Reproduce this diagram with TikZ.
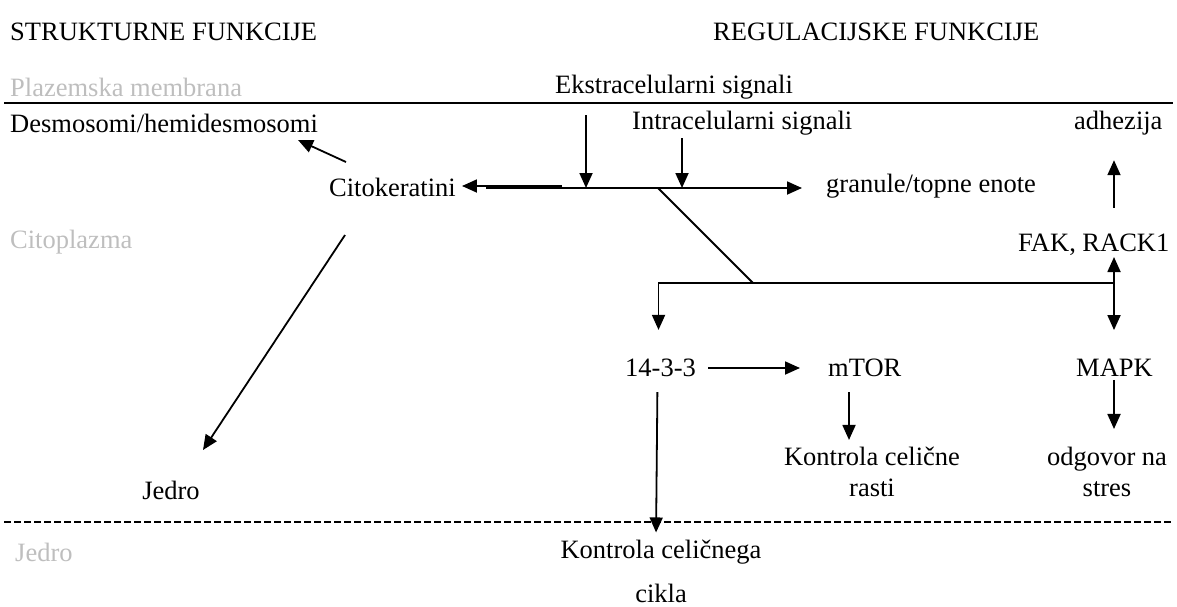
\documentclass[tikz,border=0pt]{standalone}
\usepackage{fontspec}
\setmainfont{Liberation Serif}
\usetikzlibrary{arrows.meta}
\definecolor{zonegray}{RGB}{190,190,190}
\tikzset{
  lbl/.style={inner sep=0pt, font=\fontsize{26.5}{31}\selectfont},
  zone/.style={lbl, text=zonegray, anchor=west},
  ln/.style={line width=1.8pt},
  arr/.style={ln, -{Triangle[length=15pt,width=13pt]}},
  darr/.style={ln, {Triangle[length=15pt,width=13pt]}-{Triangle[length=15pt,width=13pt]}},
}
\begin{document}
\begin{tikzpicture}[x=1pt,y=-1pt]
  \useasboundingbox (0,0) rectangle (1177,606);

  % headings and zones
  \node[lbl, anchor=west] (strukt) at (10,32) {STRUKTURNE FUNKCIJE};
  \node[lbl, anchor=west] (regul) at (713,32) {REGULACIJSKE FUNKCIJE};
  \node[zone] (plazma) at (10,87) {Plazemska membrana};
  \node[zone] (citopl) at (10,242) {Citoplazma};
  \node[zone] (jedrozona) at (15,552) {Jedro};

  \draw[ln] (4,103) -- (1173,103);
  \draw[ln, dash pattern=on 7pt off 3pt] (4,522) -- (1173,522);

  % labels
  \node[lbl, anchor=west] (ekstra) at (555,87) {Ekstracelularni signali};
  \node[lbl, anchor=west] (desmo) at (10,123) {Desmosomi/hemidesmosomi};
  \node[lbl, anchor=west] (intra) at (632,123) {Intracelularni signali};
  \node[lbl, anchor=west] (adh) at (1074,123) {adhezija};
  \node[lbl, anchor=west] (citok) at (329,187) {Citokeratini};
  \node[lbl, anchor=west] (gran) at (826,186) {granule/topne enote};
  \node[lbl, anchor=west] (fak) at (1018,245) {FAK, RACK1};
  \node[lbl, anchor=west] (t1433) at (625,368) {14-3-3};
  \node[lbl, anchor=west] (mtor) at (828,368) {mTOR};
  \node[lbl, anchor=west] (mapk) at (1076,368) {MAPK};
  \node[lbl, align=center] (rast) at (872,472) {Kontrola celične\\rasti};
  \node[lbl, align=center] (stres) at (1107,472) {odgovor na\\stres};
  \node[lbl] (jedro) at (171,490) {Jedro};
  \node[lbl, align=center] (cikel) at (661,571) {Kontrola celičnega\\[13pt]cikla};

  % junctions and free ends
  \coordinate (etail) at (586,115);
  \coordinate (ej) at (586,188);
  \coordinate (itail) at (682,138);
  \coordinate (ij) at (682,188);
  \coordinate (lj) at (562,186);
  \coordinate (mj) at (486,188);
  \coordinate (dj) at (658,188);
  \coordinate (split) at (753,283);
  \coordinate (dtail) at (346,162);
  \coordinate (dtip) at (298,140);
  \coordinate (jtail) at (345,235);
  \coordinate (jtip) at (203,450);
  \coordinate (fj) at (1114,283);

  % connectors
  \draw[arr] (etail) -- (ej);
  \draw[arr] (itail) -- (ij);
  \draw[arr, shorten >=6pt] (lj) -- (citok.east |- lj);
  \draw[arr, shorten >=24pt] (mj) -- (gran.west |- mj);
  \draw[arr] (dtail) -- (dtip);
  \draw[arr] (jtail) -- (jtip);
  \draw[ln] (dj) -- (split);
  \draw[darr, shorten <=29pt, shorten >=29pt] ([xshift=-2pt]t1433.north) |- (split) -| (fj |- mapk.north);
  \draw[arr, shorten >=1pt] (fj) -- (fj |- fak.south);
  \draw[arr, shorten <=26pt, shorten >=25pt] (fj |- fak.north) -- (fj |- adh.south);
  \draw[arr, shorten <=12pt, shorten >=28pt] (t1433.east) -- (mtor.west);
  \draw[arr, shorten <=15pt, shorten >=7pt] (849,0 |- mtor.south) -- (849,0 |- rast.north);
  \draw[arr, shorten <=3pt, shorten >=18pt] (fj |- mapk.south) -- (fj |- stres.north);
  \draw[arr, shorten <=15pt, shorten >=7pt] ([xshift=-3pt]t1433.south) -- (656,0 |- cikel.north);
\end{tikzpicture}
\end{document}
